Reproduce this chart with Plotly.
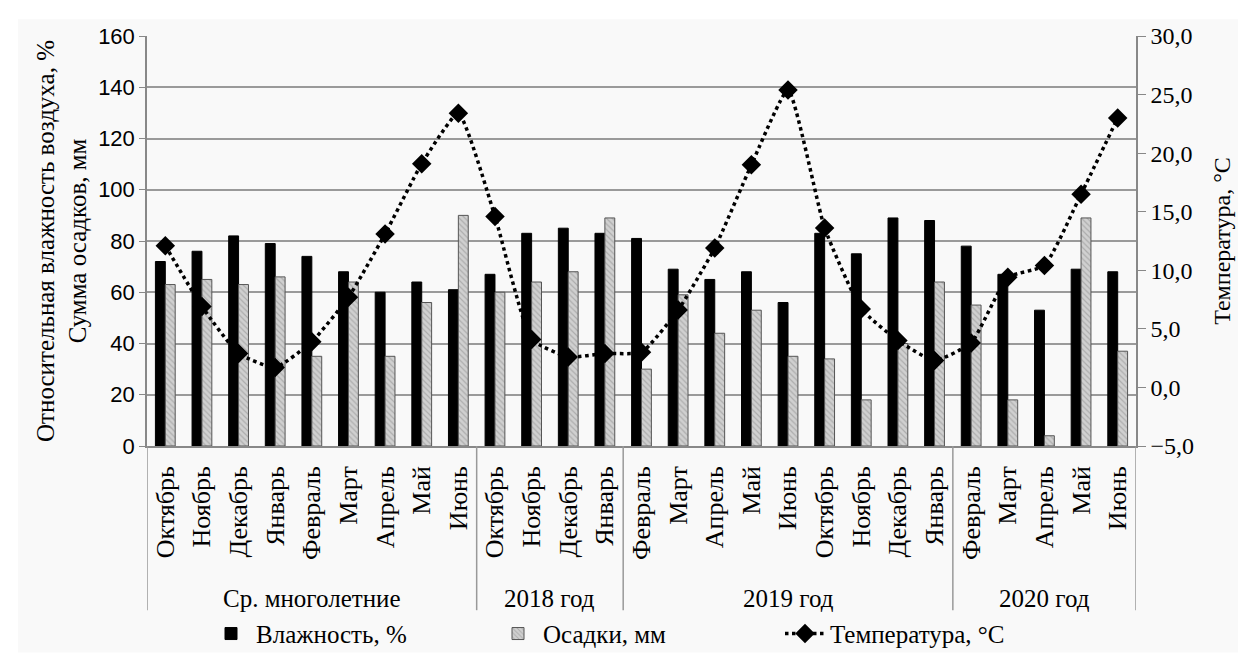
import plotly.graph_objects as go

group_names = ["Ср. многолетние", "2018 год", "2019 год", "2020 год"]
group_sizes = [9, 4, 9, 5]
months = ["Октябрь", "Ноябрь", "Декабрь", "Январь", "Февраль", "Март", "Апрель", "Май", "Июнь",
          "Октябрь", "Ноябрь", "Декабрь", "Январь",
          "Февраль", "Март", "Апрель", "Май", "Июнь", "Октябрь", "Ноябрь", "Декабрь", "Январь",
          "Февраль", "Март", "Апрель", "Май", "Июнь"]
humidity = [72, 76, 82, 79, 74, 68, 60, 64, 61,
            67, 83, 85, 83,
            81, 69, 65, 68, 56, 83, 75, 89, 88,
            78, 67, 53, 69, 68]
precip = [63, 65, 63, 66, 35, 64, 35, 56, 90,
          60, 64, 68, 89,
          30, 59, 44, 53, 35, 34, 18, 40, 64,
          55, 18, 4, 89, 37]
temperature = [12.1, 6.9, 2.9, 1.7, 3.9, 7.7, 13.1, 19.1, 23.4,
               14.6, 4.1, 2.6, 2.9,
               3.0, 6.6, 11.9, 19.0, 25.4, 13.6, 6.7, 4.0, 2.3,
               3.8, 9.4, 10.4, 16.5, 23.0]

groups = [g for g, n in zip(group_names, group_sizes) for _ in range(n)]
keys = [f"{g} · {m} · {i}" for i, (g, m) in enumerate(zip(groups, months))]
n = len(keys)

serif = "Liberation Serif"
sans = "Liberation Sans"

# plot area in pixels
W, H = 1246, 661
L, R, T, B = 139, 1128, 28, 445
ph = B - T


def py(ypix):
    return (B - ypix) / ph


fig = go.Figure()
fig.add_trace(go.Bar(
    x=keys, y=humidity, name="Влажность, %",
    marker=dict(color="#000000", line=dict(color="#000000", width=1)),
))
fig.add_trace(go.Bar(
    x=keys, y=precip, name="Осадки, мм",
    marker=dict(color="#c8c8c8", line=dict(color="#555555", width=1),
                pattern=dict(shape="\\", fgcolor="#8a8a8a", bgcolor="#d0d0d0", size=4, solidity=0.3)),
))
fig.add_trace(go.Scatter(
    x=keys, y=temperature, name="Температура, °C", yaxis="y2",
    mode="lines+markers",
    line=dict(color="#000000", width=3.5, dash="dot", shape="spline", smoothing=0.45),
    marker=dict(symbol="diamond", size=15, color="#000000"),
))

# group boundaries (in category index units)
bounds = [-0.5]
for s in group_sizes:
    bounds.append(bounds[-1] + s)

shapes = [dict(type="rect", xref="paper", yref="paper",
               x0=(10 - L) / (R - L), x1=(1240 - L) / (R - L),
               y0=py(655), y1=py(11),
               fillcolor="#f9f9f9", line=dict(width=0), layer="below")]
for b in bounds:
    shapes.append(dict(type="line", xref="x", yref="paper", x0=b, x1=b,
                       y0=0, y1=py(612), line=dict(color="#999999", width=1.5)))

annotations = []
for g, a, b in zip(group_names, bounds[:-1], bounds[1:]):
    annotations.append(dict(x=(a + b) / 2, xref="x", y=py(600), yref="paper",
                            text=g, showarrow=False, yanchor="middle", xanchor="center",
                            font=dict(family=serif, size=25, color="#000000")))

fig.update_layout(
    width=W, height=H,
    margin=dict(l=L, r=W - R, t=T, b=H - B),
    paper_bgcolor="#ffffff",
    plot_bgcolor="#f9f9f9",
    separators=", ",
    barmode="group",
    bargap=0.46,
    bargroupgap=0,
    font=dict(family=serif, size=24, color="#000000"),
    showlegend=True,
    legend=dict(orientation="h", x=(198 - L) / (R - L), xanchor="left", y=py(636), yanchor="middle",
                entrywidth=232, entrywidthmode="pixels",
                font=dict(family=serif, size=25), bgcolor="rgba(0,0,0,0)",
                itemwidth=40),
    xaxis=dict(
        type="category", range=[-0.5, n - 0.5],
        tickmode="array", tickvals=keys, ticktext=months,
        showline=True, linecolor="#888888", linewidth=1.5,
        ticks="", tickangle=-90, ticklabelstandoff=8,
        tickfont=dict(family=serif, size=26),
        showgrid=False,
    ),
    xaxis2=dict(
        overlaying="x", anchor="y", side="bottom", type="linear",
        range=[-0.5, n - 0.5],
        tickmode="array", tickvals=[i - 0.5 for i in range(n + 1)],
        ticks="outside", ticklen=120, tickcolor="#999999", tickwidth=1.5,
        showticklabels=False, showgrid=False, showline=False, zeroline=False,
    ),
    yaxis=dict(
        range=[0, 160], dtick=20,
        showgrid=True, gridcolor="#9a9a9a", gridwidth=1.5,
        showline=True, linecolor="#888888", linewidth=1.5,
        ticks="outside", ticklen=6, tickcolor="#888888",
        tickfont=dict(family=sans, size=22),
        title=dict(text="Относительная влажность воздуха, %<br>Сумма осадков, мм",
                   font=dict(family=serif, size=25), standoff=4),
        zeroline=False,
    ),
    yaxis2=dict(
        range=[-5, 30], dtick=5, overlaying="y", side="right",
        tickformat=".1f",
        showgrid=False,
        showline=True, linecolor="#888888", linewidth=1.5,
        ticks="outside", ticklen=8, tickcolor="#888888",
        tickfont=dict(family=serif, size=24),
        title=dict(text="Температура, °C", font=dict(family=serif, size=24), standoff=20),
        zeroline=False,
    ),
    shapes=shapes,
    annotations=annotations,
)

fig.write_html("out.html")
